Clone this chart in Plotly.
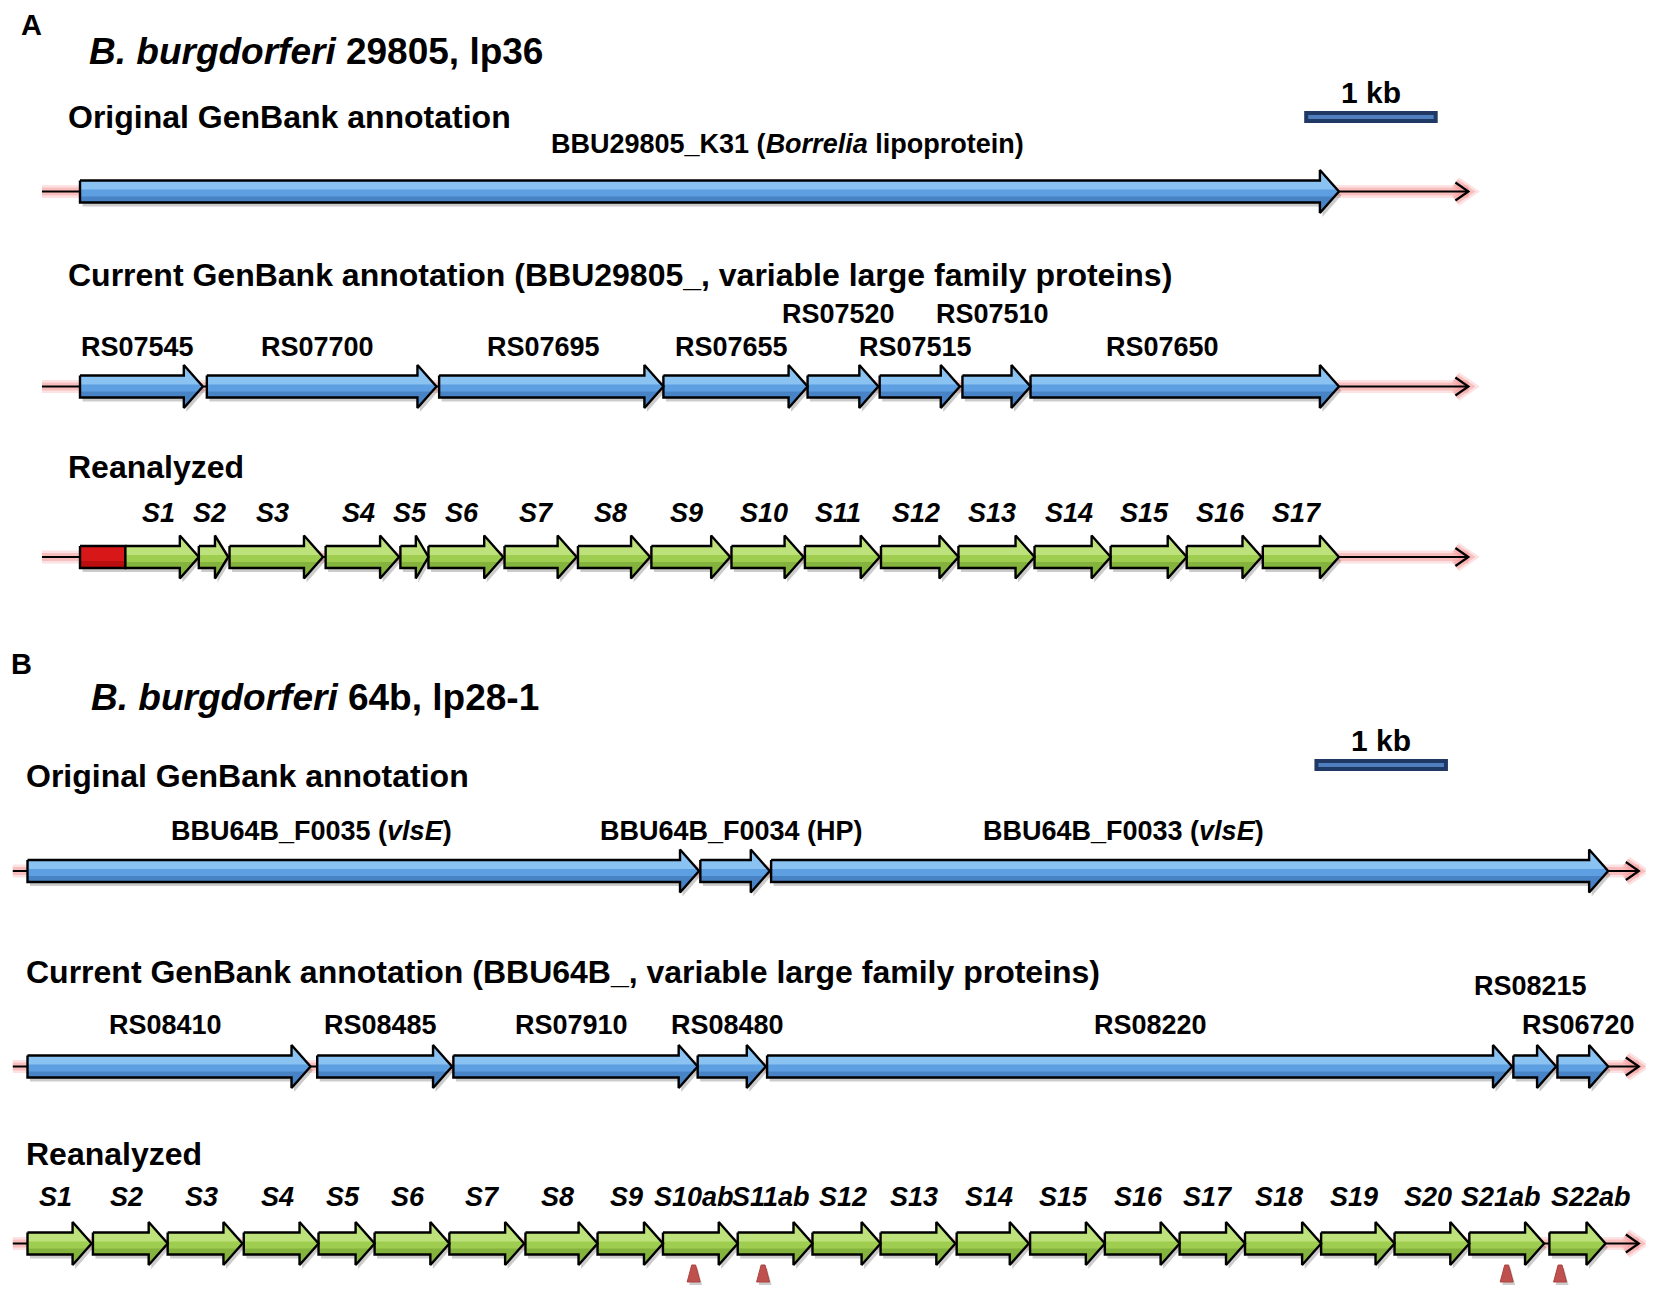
import plotly.graph_objects as go

KB_PX = 133.5  # pixels per kb, from the 1 kb scale bars

# ---- panel A: B. burgdorferi 29805, lp36 (kb from start of first gene)
a_orig_names = ["BBU29805_K31 (<i>Borrelia</i> lipoprotein)"]
a_orig_start = [0.0]
a_orig_end = [9.43]
a_orig_label_at = [5.30]

a_cur_names = ["RS07545", "RS07700", "RS07695", "RS07655",
               "RS07520", "RS07515", "RS07510", "RS07650"]
a_cur_start = [0.0, 0.95, 2.69, 4.37, 5.45, 5.99, 6.61, 7.12]
a_cur_end = [0.92, 2.67, 4.37, 5.45, 5.98, 6.59, 7.12, 9.43]
a_cur_upper = [0, 0, 0, 0, 1, 0, 1, 0]
a_cur_label_at = {"RS07695": 3.47, "RS07650": 8.11}

a_re_names = ["S%d" % i for i in range(1, 18)]
a_re_start = [0.34, 0.89, 1.12, 1.84, 2.40, 2.61, 3.18, 3.73, 4.28,
              4.88, 5.43, 6.00, 6.58, 7.15, 7.72, 8.29, 8.86]
a_re_end = [0.89, 1.11, 1.82, 2.39, 2.61, 3.17, 3.72, 4.27, 4.87,
            5.42, 5.99, 6.58, 7.15, 7.72, 8.29, 8.85, 9.43]
a_red_box = [0.0, 0.34]
a_line = [-0.285, 10.40]

# ---- panel B: B. burgdorferi 64b, lp28-1
b_orig_names = ["BBU64B_F0035 (<i>vlsE</i>)", "BBU64B_F0034 (HP)",
                "BBU64B_F0033 (<i>vlsE</i>)"]
b_orig_start = [0.0, 5.04, 5.57]
b_orig_end = [5.03, 5.56, 11.84]
b_orig_label_at = [2.13, 5.27, 8.21]

b_cur_names = ["RS08410", "RS08485", "RS07910", "RS08480",
               "RS08220", "RS08215", "RS06720"]
b_cur_start = [0.0, 2.17, 3.19, 5.02, 5.54, 11.13, 11.46]
b_cur_end = [2.12, 3.18, 5.02, 5.53, 11.12, 11.45, 11.84]
b_cur_upper = [0, 0, 0, 0, 0, 1, 0]
b_cur_label_at = {"RS08220": 8.41}

b_re_names = (["S%d" % i for i in range(1, 10)] + ["S10ab", "S11ab"]
              + ["S%d" % i for i in range(12, 21)] + ["S21ab", "S22ab"])
b_re_start = [0.0, 0.49, 1.05, 1.62, 2.18, 2.60, 3.16, 3.73, 4.27, 4.76, 5.32,
              5.88, 6.39, 6.96, 7.51, 8.07, 8.63, 9.12, 9.69, 10.24, 10.80, 11.40]
b_re_end = [0.48, 1.05, 1.61, 2.18, 2.60, 3.16, 3.72, 4.27, 4.76, 5.32, 5.88,
            6.39, 6.95, 7.50, 8.07, 8.63, 9.12, 9.69, 10.24, 10.80, 11.36, 11.82]
# labels not centred on their gene
b_re_label_at = {"S10ab": 4.99, "S21ab": 11.04, "S22ab": 11.71}
b_split_sites = [4.99, 5.51, 11.08, 11.48]
b_line = [-0.11, 12.07]

scale_bar_kb = 1.0

FONT = "Liberation Sans, Arial, sans-serif"
BODY = 11     # half height of arrow shaft (px)
HEAD = 21.5   # half height of arrow head (px)
HEAD_LEN = 19  # px
PAGE = 8      # default body margin of the html page
BLUE = ("#5e9fe2", "#92c8f4", "#3e78bb")
GREEN = ("#9fcd50", "#c2e482", "#7aa936")

fig = go.Figure()


def arrow_paths(starts, ends, yc):
    xs, ys, sx, sy, lx, ly, dx, dy = [], [], [], [], [], [], [], []
    off = 2.5 / KB_PX
    for s, e in zip(starts, ends):
        h = min(HEAD_LEN / KB_PX, 0.45 * (e - s))
        px = [s, e - h, e - h, e, e - h, e - h, s, s]
        py = [yc - BODY, yc - BODY, yc - HEAD, yc, yc + HEAD, yc + BODY, yc + BODY, yc - BODY]
        xs += px + [None]
        ys += py + [None]
        sx += [v + off for v in px] + [None]
        sy += [v + 4 for v in py] + [None]
        # light upper band, dark lower band
        lx += [s, e - h, e - h, e - h * 0.25, e - h * 0.1, s, None]
        ly += [yc - BODY, yc - BODY, yc - HEAD, yc - 4, yc - 2, yc - 2, None]
        dx += [s, e - h * 0.2, e - h, e - h, s, None]
        dy += [yc + 5, yc + 5, yc + HEAD, yc + BODY, yc + BODY, None]
    return xs, ys, sx, sy, lx, ly, dx, dy


def add_track(xref, line, yc):
    x0, x1 = line
    ah = 13 / KB_PX
    gx = [x0, x1, None, x1 - ah, x1, x1 - ah]
    gy = [yc, yc, None, yc - 9, yc, yc + 9]
    for w, c in [(13, "rgba(245,140,140,0.25)"), (8, "rgba(245,140,140,0.4)")]:
        fig.add_trace(go.Scatter(x=gx, y=gy, xaxis=xref, mode="lines",
                                 line=dict(color=c, width=w), hoverinfo="skip"))
    fig.add_trace(go.Scatter(x=gx, y=gy, xaxis=xref, mode="lines",
                             line=dict(color="black", width=2.2), hoverinfo="skip"))


def add_genes(xref, starts, ends, yc, colors):
    fill, light, dark = colors
    xs, ys, sx, sy, lx, ly, dx, dy = arrow_paths(starts, ends, yc)
    fig.add_trace(go.Scatter(x=sx, y=sy, xaxis=xref, mode="lines", fill="toself",
                             fillcolor="rgba(0,0,0,0.2)", line=dict(width=0),
                             hoverinfo="skip"))
    fig.add_trace(go.Scatter(x=xs, y=ys, xaxis=xref, mode="lines", fill="toself",
                             fillcolor=fill, line=dict(width=0), hoverinfo="skip"))
    fig.add_trace(go.Scatter(x=lx, y=ly, xaxis=xref, mode="lines", fill="toself",
                             fillcolor=light, line=dict(width=0), opacity=0.85,
                             hoverinfo="skip"))
    fig.add_trace(go.Scatter(x=dx, y=dy, xaxis=xref, mode="lines", fill="toself",
                             fillcolor=dark, line=dict(width=0), opacity=0.7,
                             hoverinfo="skip"))
    fig.add_trace(go.Scatter(x=xs, y=ys, xaxis=xref, mode="lines",
                             line=dict(color="black", width=2.4), hoverinfo="skip"))


def label(xref, x, y, text, size=27, anchor="center", italic=False):
    t = "<b>%s</b>" % text
    if italic:
        t = "<i>%s</i>" % t
    fig.add_annotation(x=x, y=y, xref=xref, yref="y", text=t, showarrow=False,
                       xanchor=anchor, yanchor="middle",
                       font=dict(family=FONT, size=size, color="black"))


def add_scale_bar(xref, x0, y_bar, y_text):
    x1 = x0 + scale_bar_kb
    fig.add_trace(go.Scatter(x=[x0, x1], y=[y_bar, y_bar], xaxis=xref, mode="lines",
                             line=dict(color="#1f3864", width=12), hoverinfo="skip"))
    fig.add_trace(go.Scatter(x=[x0 + 0.03, x1 - 0.03], y=[y_bar, y_bar], xaxis=xref,
                             mode="lines", line=dict(color="#4f7fbf", width=4),
                             hoverinfo="skip"))
    label(xref, (x0 + x1) / 2, y_text, "1 kb", size=30)


def mid(s, e):
    return (s + e) / 2 - 0.03


# ---------------- panel A ----------------
label("x", -0.46, 25, "A", size=29, anchor="left")
label("x", 0.05, 51, "<i>B. burgdorferi</i> 29805, lp36", size=37, anchor="left")
add_scale_bar("x", 9.17, 117, 92)

label("x", -0.105, 117, "Original GenBank annotation", size=32, anchor="left")
add_track("x", a_line, 191.5)
add_genes("x", a_orig_start, a_orig_end, 191.5, BLUE)
for n, xl in zip(a_orig_names, a_orig_label_at):
    label("x", xl, 144, n)

label("x", -0.105, 275, "Current GenBank annotation (BBU29805_, variable large family proteins)",
      size=32, anchor="left")
add_track("x", a_line, 386.5)
add_genes("x", a_cur_start, a_cur_end, 386.5, BLUE)
for n, s, e, up in zip(a_cur_names, a_cur_start, a_cur_end, a_cur_upper):
    label("x", a_cur_label_at.get(n, mid(s, e)), 314 if up else 347, n)

label("x", -0.105, 467, "Reanalyzed", size=32, anchor="left")
add_track("x", a_line, 557)
box_x = [a_red_box[0], a_red_box[1], a_red_box[1], a_red_box[0], a_red_box[0]]
box_y = [557 - BODY, 557 - BODY, 557 + BODY, 557 + BODY, 557 - BODY]
fig.add_trace(go.Scatter(x=[v + 2.5 / KB_PX for v in box_x], y=[v + 4 for v in box_y],
                         mode="lines", fill="toself", fillcolor="rgba(0,0,0,0.2)",
                         line=dict(width=0), hoverinfo="skip"))
fig.add_trace(go.Scatter(x=box_x, y=box_y, mode="lines", fill="toself",
                         fillcolor="#d81818", line=dict(width=0), hoverinfo="skip"))
fig.add_trace(go.Scatter(x=[a_red_box[0], a_red_box[1], a_red_box[1], a_red_box[0]],
                         y=[557 + 4, 557 + 4, 557 + BODY - 1, 557 + BODY - 1],
                         mode="lines", fill="toself", fillcolor="#a80808", opacity=0.6,
                         line=dict(width=0), hoverinfo="skip"))
fig.add_trace(go.Scatter(x=box_x, y=box_y, mode="lines",
                         line=dict(color="black", width=2.4), hoverinfo="skip"))
add_genes("x", a_re_start, a_re_end, 557, GREEN)
for n, s, e in zip(a_re_names, a_re_start, a_re_end):
    label("x", mid(s, e), 513, n, italic=True)

# ---------------- panel B ----------------
label("x2", -0.14, 664, "B", size=29, anchor="left")
label("x2", 0.46, 697, "<i>B. burgdorferi</i> 64b, lp28-1", size=37, anchor="left")
add_scale_bar("x2", 9.64, 765, 740)

label("x2", -0.03, 776, "Original GenBank annotation", size=32, anchor="left")
add_track("x2", b_line, 871)
add_genes("x2", b_orig_start, b_orig_end, 871, BLUE)
for n, xl in zip(b_orig_names, b_orig_label_at):
    label("x2", xl, 831, n)

label("x2", -0.03, 972, "Current GenBank annotation (BBU64B_, variable large family proteins)",
      size=32, anchor="left")
add_track("x2", b_line, 1066.5)
add_genes("x2", b_cur_start, b_cur_end, 1066.5, BLUE)
for n, s, e, up in zip(b_cur_names, b_cur_start, b_cur_end, b_cur_upper):
    label("x2", b_cur_label_at.get(n, mid(s, e)), 986 if up else 1025, n)

label("x2", -0.03, 1154, "Reanalyzed", size=32, anchor="left")
add_track("x2", b_line, 1243.5)
add_genes("x2", b_re_start, b_re_end, 1243.5, GREEN)
for n, s, e in zip(b_re_names, b_re_start, b_re_end):
    label("x2", b_re_label_at.get(n, mid(s, e)), 1197, n, italic=True)

# split-site markers
tx, ty, tsx, tsy = [], [], [], []
w = 6.5 / KB_PX
for p in b_split_sites:
    px = [p - w, p - w * 0.3, p + w * 0.3, p + w, p - w]
    py = [1282, 1265, 1265, 1282, 1282]
    tx += px + [None]
    ty += py + [None]
    tsx += [v + 2 / KB_PX for v in px] + [None]
    tsy += [v + 3 for v in py] + [None]
fig.add_trace(go.Scatter(x=tsx, y=tsy, xaxis="x2", mode="lines", fill="toself",
                         fillcolor="rgba(0,0,0,0.2)", line=dict(width=0), hoverinfo="skip"))
fig.add_trace(go.Scatter(x=tx, y=ty, xaxis="x2", mode="lines", fill="toself",
                         fillcolor="#c0504d", line=dict(color="#a84440", width=1),
                         hoverinfo="skip"))

W, H = 1654, 1300
fig.update_layout(
    width=W - PAGE, height=H - PAGE, showlegend=False,
    margin=dict(l=0, r=0, t=0, b=0),
    paper_bgcolor="white", plot_bgcolor="white",
    xaxis=dict(range=[(PAGE - 80) / KB_PX, (W - 80) / KB_PX], visible=False, domain=[0, 1]),
    xaxis2=dict(range=[(PAGE - 27.5) / KB_PX, (W - 27.5) / KB_PX], visible=False,
                overlaying="x", anchor="y"),
    yaxis=dict(range=[H, PAGE], visible=False),
)

fig.write_html("out.html")
